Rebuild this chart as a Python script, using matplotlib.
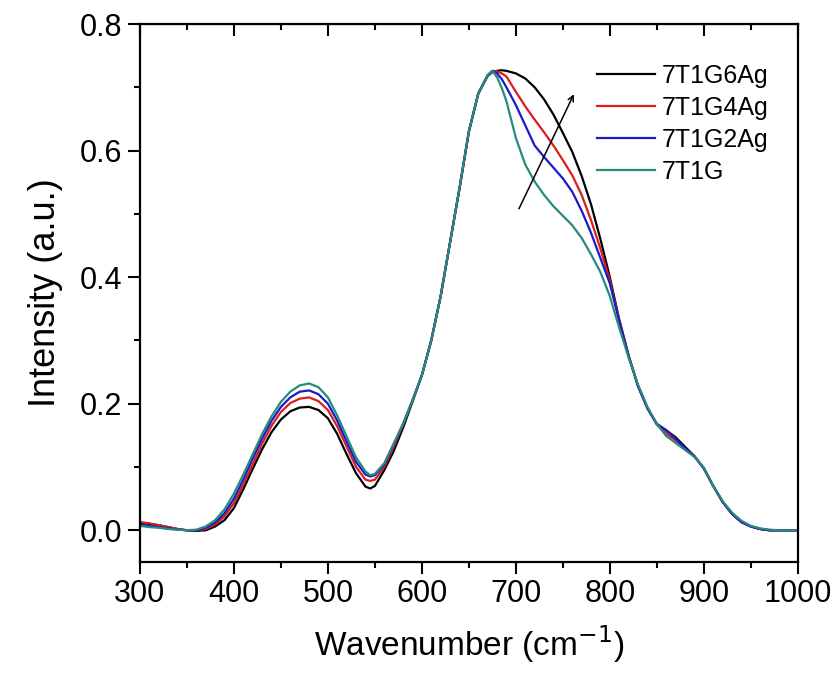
import numpy as np
import matplotlib
matplotlib.use('Agg')
import matplotlib.pyplot as plt
from matplotlib.ticker import MultipleLocator

plt.rcParams['font.family'] = ['Liberation Sans', 'DejaVu Sans']

# wavenumber grid (cm-1)
wavenumber = [300, 310, 320, 330, 340, 350, 360, 370, 380, 390,
              400, 410, 420, 430, 440, 450, 460, 470, 480, 490,
              500, 510, 520, 530, 540, 545, 550, 560, 570, 580,
              590, 600, 610, 620, 630, 640, 650, 660, 670, 675,
              680, 685, 690, 700, 710, 720, 730, 740, 750, 760,
              770, 780, 790, 800, 810, 820, 830, 840, 850, 860,
              870, 880, 890, 900, 910, 920, 930, 940, 950, 960,
              970, 980, 990, 1000]

labels = ['7T1G6Ag', '7T1G4Ag', '7T1G2Ag', '7T1G']
colors = ['black', '#dd1c1c', '#1a1ac8', '#268a7e']

i_6ag = [0.012, 0.010, 0.008, 0.005, 0.002, 0.000, -0.001, 0.000, 0.006, 0.016,
         0.035, 0.065, 0.097, 0.128, 0.155, 0.175, 0.188, 0.194, 0.195, 0.190,
         0.177, 0.152, 0.120, 0.090, 0.069, 0.066, 0.070, 0.095, 0.125, 0.162,
         0.203, 0.245, 0.300, 0.370, 0.455, 0.540, 0.630, 0.690, 0.718, 0.724,
         0.726, 0.727, 0.726, 0.722, 0.714, 0.700, 0.681, 0.657, 0.628, 0.598,
         0.560, 0.515, 0.460, 0.400, 0.333, 0.276, 0.228, 0.193, 0.168, 0.158,
         0.147, 0.132, 0.117, 0.098, 0.070, 0.045, 0.026, 0.013, 0.006, 0.002,
         0.000, 0.000, 0.000, 0.000]

i_4ag = [0.013, 0.011, 0.008, 0.005, 0.002, 0.000, 0.000, 0.002, 0.009, 0.022,
         0.043, 0.072, 0.104, 0.137, 0.165, 0.187, 0.201, 0.208, 0.210, 0.204,
         0.190, 0.164, 0.132, 0.100, 0.080, 0.078, 0.080, 0.100, 0.132, 0.167,
         0.205, 0.245, 0.300, 0.370, 0.455, 0.540, 0.630, 0.690, 0.719, 0.726,
         0.725, 0.722, 0.717, 0.693, 0.670, 0.649, 0.629, 0.608, 0.585, 0.561,
         0.530, 0.490, 0.445, 0.395, 0.332, 0.275, 0.228, 0.193, 0.167, 0.153,
         0.142, 0.128, 0.117, 0.098, 0.070, 0.045, 0.026, 0.013, 0.006, 0.002,
         0.000, 0.000, 0.000, 0.000]

i_2ag = [0.009, 0.007, 0.005, 0.003, 0.001, 0.000, 0.000, 0.004, 0.012, 0.027,
         0.050, 0.080, 0.113, 0.145, 0.173, 0.195, 0.210, 0.219, 0.221, 0.215,
         0.200, 0.173, 0.140, 0.108, 0.088, 0.085, 0.087, 0.104, 0.136, 0.168,
         0.205, 0.245, 0.300, 0.370, 0.455, 0.540, 0.630, 0.690, 0.719, 0.726,
         0.722, 0.713, 0.700, 0.672, 0.640, 0.608, 0.590, 0.573, 0.556, 0.535,
         0.505, 0.470, 0.430, 0.390, 0.331, 0.275, 0.228, 0.193, 0.168, 0.158,
         0.145, 0.130, 0.117, 0.098, 0.070, 0.045, 0.026, 0.013, 0.006, 0.002,
         0.000, 0.000, 0.000, 0.000]

i_ref = [0.007, 0.005, 0.004, 0.002, 0.001, 0.000, 0.001, 0.006, 0.016, 0.033,
         0.058, 0.088, 0.120, 0.152, 0.180, 0.203, 0.219, 0.229, 0.232, 0.226,
         0.210, 0.181, 0.148, 0.115, 0.093, 0.087, 0.089, 0.106, 0.137, 0.168,
         0.205, 0.245, 0.300, 0.370, 0.455, 0.540, 0.630, 0.690, 0.719, 0.726,
         0.716, 0.699, 0.678, 0.620, 0.578, 0.551, 0.530, 0.512, 0.497, 0.482,
         0.462, 0.436, 0.408, 0.370, 0.320, 0.273, 0.230, 0.195, 0.168, 0.149,
         0.138, 0.127, 0.116, 0.099, 0.070, 0.046, 0.028, 0.015, 0.007, 0.003,
         0.001, 0.000, 0.000, 0.000]

series = [i_6ag, i_4ag, i_2ag, i_ref]

fig = plt.figure(figsize=(8.38, 6.77), dpi=100)
ax = fig.add_axes([0.167, 0.170, 0.785, 0.7945])

for y, c, lab in zip(series, colors, labels):
    ax.plot(wavenumber, y, color=c, lw=1.6, label=lab)

# arrow showing the trend of the shoulder
ax.annotate('', xy=(763, 0.693), xytext=(702, 0.504),
            arrowprops=dict(arrowstyle='->', color='black', lw=1.1))

ax.set_xlim(300, 1000)
ax.set_ylim(-0.05, 0.8)
ax.xaxis.set_major_locator(MultipleLocator(100))
ax.xaxis.set_minor_locator(MultipleLocator(50))
ax.yaxis.set_major_locator(MultipleLocator(0.2))
ax.yaxis.set_minor_locator(MultipleLocator(0.1))
ax.yaxis.set_major_formatter(matplotlib.ticker.FormatStrFormatter('%.1f'))

for s in ax.spines.values():
    s.set_linewidth(1.6)
ax.tick_params(which='major', direction='out', length=8.5, width=1.5,
               labelsize=22, pad=4)
ax.tick_params(which='minor', direction='out', length=4.5, width=1.5)

# mirrored top axis with inward ticks, no labels
top = ax.secondary_xaxis('top')
top.xaxis.set_major_locator(MultipleLocator(100))
top.xaxis.set_minor_locator(MultipleLocator(50))
top.tick_params(which='major', direction='in', length=8.5, width=1.5, labeltop=False)
top.tick_params(which='minor', direction='in', length=4.5, width=1.5)

ax.set_xlabel('Wavenumber (cm$^{-1}$)', fontsize=24, labelpad=10)
ax.set_ylabel('Intensity (a.u.)', fontsize=26, labelpad=12)

ax.legend(loc='upper left', bbox_to_anchor=(597 / 838, 1 - 64 / 677),
          bbox_transform=fig.transFigure, frameon=False, fontsize=18,
          handlelength=2.3, handletextpad=0.3, labelspacing=0.32,
          borderpad=0, borderaxespad=0)

fig.savefig('out.png', dpi=100)
